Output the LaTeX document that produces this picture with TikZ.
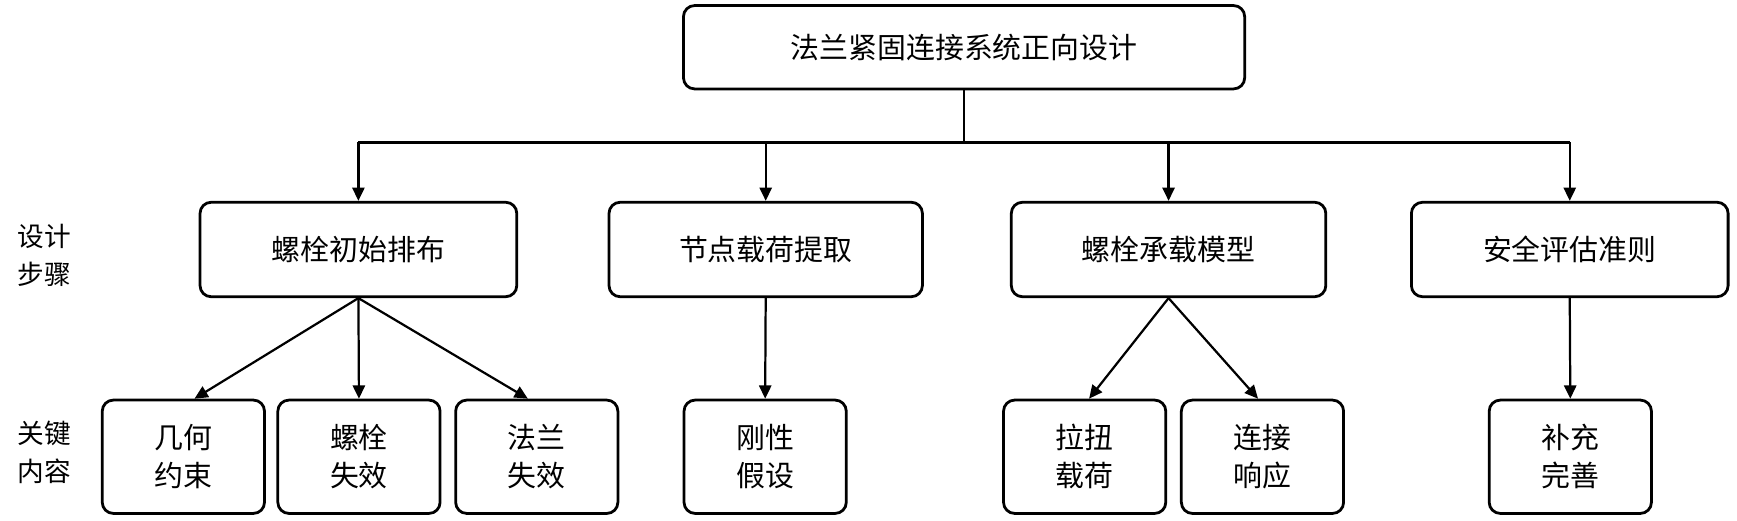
\documentclass[tikz,border=0pt]{standalone}
\usepackage{fontspec}
\setmainfont{Noto Sans CJK SC}
\usetikzlibrary{arrows.meta}
\begin{document}
\begin{tikzpicture}[x=1pt,y=-1pt,
  box/.style={draw,line width=2.5pt,rounded corners=10pt,minimum height=#1,align=center,inner sep=0pt,font=\fontsize{26}{34}\selectfont},
  lab/.style={align=center,font=\fontsize{24}{34}\selectfont},
  arr/.style={line width=2pt,-{Triangle[length=12pt,width=11pt]}}]
\useasboundingbox (0,0) rectangle (1563,468);
\node[box=75pt,minimum width=505pt] (top) at (867.5,42.5) {法兰紧固连接系统正向设计};
\node[box=85pt,minimum width=285pt] (a) at (322.5,224.5) {螺栓初始排布};
\node[box=85pt,minimum width=282pt] (b) at (689,224.5) {节点载荷提取};
\node[box=85pt,minimum width=283pt] (c) at (1051.5,224.5) {螺栓承载模型};
\node[box=85pt,minimum width=285pt] (d) at (1412.5,224.5) {安全评估准则};
\foreach \n/\x/\t in {a1/165/几何\\约束, a2/323/螺栓\\失效, a3/483/法兰\\失效, b1/688.5/刚性\\假设, c1/976/拉扭\\载荷, c2/1136/连接\\响应, d1/1413/补充\\完善}
  \node[box=102pt,minimum width=146pt] (\n) at (\x,411) {\t};
\node[lab] (s1) at (40,230) {设计\\步骤};
\node[lab] (s2) at (40,407) {关键\\内容};
\coordinate (j) at (867.5,128);
\draw[line width=2pt] (top.south) -- (j);
\draw[line width=2.5pt] (a.north|-j) -- (d.north|-j);
\foreach \n in {a,b,c,d} \draw[arr] (\n.north|-j) -- (\n.north);
\draw[arr] (a.south) -- ([xshift=10pt]a1.north);
\draw[arr] (a.south) -- (a2.north);
\draw[arr] (a.south) -- ([xshift=-8pt]a3.north);
\draw[arr] (b.south) -- (b1.north);
\draw[arr] (c.south) -- ([xshift=4pt]c1.north);
\draw[arr] (c.south) -- ([xshift=-4pt]c2.north);
\draw[arr] (d.south) -- (d1.north);
\end{tikzpicture}
\end{document}
